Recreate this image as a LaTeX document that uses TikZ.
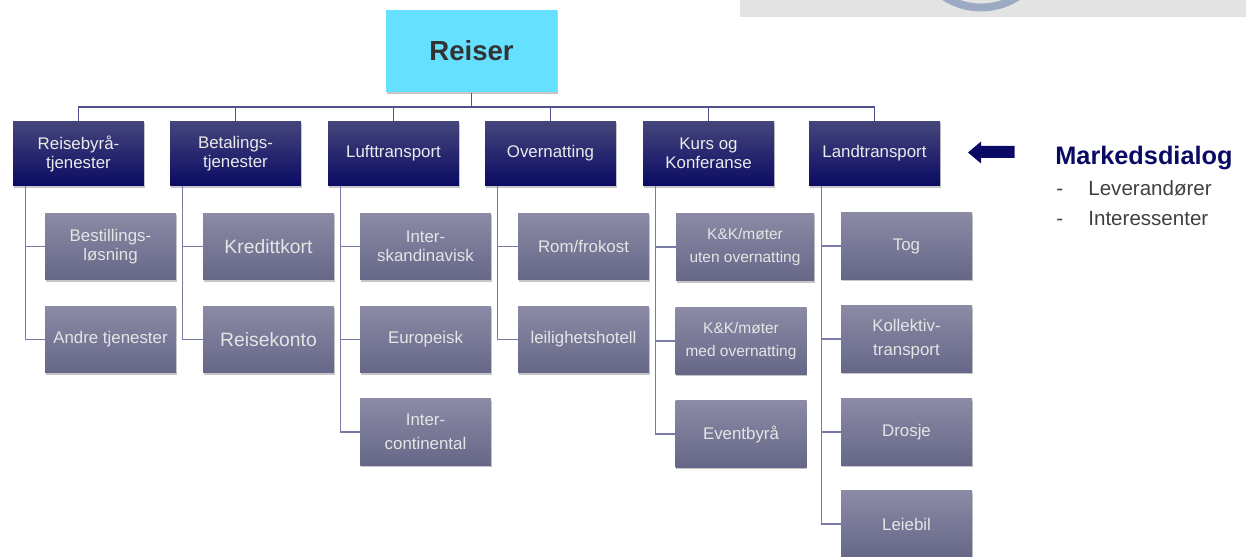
\documentclass[tikz,border=0pt]{standalone}
\usepackage{fontspec}
\setmainfont{Liberation Sans}
\usetikzlibrary{shadows}
\definecolor{navy}{HTML}{0A0A64}
\definecolor{navytop}{HTML}{46467C}
\definecolor{greytop}{HTML}{8B8BA6}
\definecolor{greybot}{HTML}{666688}
\definecolor{linecol}{HTML}{7A7AA6}
\definecolor{buscol}{HTML}{50508E}
\definecolor{ringcol}{HTML}{9CA9C2}
\definecolor{rootcol}{HTML}{66E0FF}
\tikzset{
	topbox/.style={rectangle, inner sep=0pt, align=center, text=white!92!black, font=\fontsize{9.6}{10.8}\selectfont,
		top color=navytop, bottom color=navy, drop shadow={opacity=0.45, shadow xshift=0.3pt, shadow yshift=-1pt},
		minimum width=2.62cm, minimum height=1.3cm},
	subbox/.style={rectangle, inner sep=0pt, align=center, text=white!90!black, font=\fontsize{9.6}{10.8}\selectfont,
		top color=greytop, bottom color=greybot, drop shadow={opacity=0.45, shadow xshift=0.3pt, shadow yshift=-1pt},
		minimum width=2.62cm, minimum height=1.33cm},
	conn/.style={linecol, line width=0.9pt},
	busconn/.style={buscol, line width=0.9pt},
	wide/.style={font=\fontsize{9.6}{13.8}\selectfont},
	large/.style={font=\fontsize{11}{12}\selectfont},
	small/.style={font=\fontsize{8.8}{12.6}\selectfont},
	side/.style={inner sep=0pt, anchor=base west, text=black!75, font=\fontsize{11.7}{15}\selectfont}
}
\begin{document}
\begin{tikzpicture}
	[x=0.02cm, y=-0.02cm]
	\useasboundingbox (0,0) rectangle (1246,557);

	% Banner at the top
	\begin{scope}
		\clip (740,0) rectangle (1246,17);
		\fill[gray!22] (740,0) rectangle (1246,17);
		\draw[ringcol, line width=4.5pt] (981,-59.5) circle[radius=1.34cm];
	\end{scope}

	% Draw root
	\node[rectangle, inner sep=0pt, fill=rootcol, minimum width=3.42cm, minimum height=1.66cm,
		drop shadow={opacity=0.45, shadow xshift=0.3pt, shadow yshift=-1pt},
		font=\bfseries\fontsize{15.7}{18}\selectfont, text=black!80] (Reiser) at (471.5,51) {Reiser};
	\coordinate (Bus) at (471.5,107);

	% Draw top row
	\node[topbox] (Reisebyraa) at (78.5,153.5) {Reisebyrå-\\tjenester};
	\node[topbox] (Betaling) at (235.5,153.5) {Betalings-\\tjenester};
	\node[topbox] (Luft) at (393.5,153.5) {Lufttransport};
	\node[topbox] (Overnatting) at (550.5,153.5) {Overnatting};
	\node[topbox] (Kurs) at (708.5,153.5) {Kurs og\\Konferanse};
	\node[topbox] (Land) at (874.5,153.5) {Landtransport};

	% Draw first column
	\node[subbox] (Bestilling) at (110.5,246.5) {Bestillings-\\løsning};
	\node[subbox] (Andre) at (110.5,339.5) {Andre tjenester};

	% Draw second column
	\node[subbox, large] (Kreditt) at (268.5,246.5) {Kredittkort};
	\node[subbox, large] (Konto) at (268.5,339.5) {Reisekonto};

	% Draw third column
	\node[subbox] (Skandinavisk) at (425.5,246.5) {Inter-\\skandinavisk};
	\node[subbox] (Europeisk) at (425.5,339.5) {Europeisk};
	\node[subbox, wide] (Continental) at (425.5,432) {Inter-\\continental};

	% Draw fourth column
	\node[subbox] (Rom) at (583.5,246.5) {Rom/frokost};
	\node[subbox] (Hotell) at (583.5,339.5) {leilighetshotell};

	% Draw fifth column
	\node[subbox, small, minimum width=2.76cm, minimum height=1.36cm] (Uten) at (745,247) {K\&K/møter\\uten overnatting};
	\node[subbox, small] (Med) at (741,341) {K\&K/møter\\med overnatting};
	\node[subbox] (Event) at (741,434) {Eventbyrå};

	% Draw sixth column
	\node[subbox] (Tog) at (906.5,246) {Tog};
	\node[subbox, wide] (Kollektiv) at (906.5,339) {Kollektiv-\\transport};
	\node[subbox] (Drosje) at (906.5,432) {Drosje};
	\node[subbox] (Leiebil) at (906.5,524) {Leiebil};

	% Draw connectors from root
	\foreach \top in {Reisebyraa, Betaling, Luft, Overnatting, Kurs, Land}
		\draw[busconn] (Reiser.south) -- (Bus) -| (\top.north);

	% Draw connectors to children
	\foreach \top/\sub in {Reisebyraa/Bestilling, Reisebyraa/Andre, Betaling/Kreditt, Betaling/Konto,
		Luft/Skandinavisk, Luft/Europeisk, Luft/Continental, Overnatting/Rom, Overnatting/Hotell,
		Kurs/Uten, Kurs/Med, Kurs/Event, Land/Tog, Land/Kollektiv, Land/Drosje, Land/Leiebil}
		\draw[conn] ([xshift=0.26cm]\top.south west) |- (\sub.west);

	% Draw market dialog
	\node[inner sep=0pt, anchor=base west, text=navy, font=\bfseries\fontsize{14.4}{16}\selectfont] (Dialog) at (1055,165) {Markedsdialog};
	\node[side] (DashA) at (1056,195) {-};
	\node[side] (Lev) at (1088,195) {Leverandører};
	\node[side] (DashB) at (1056,225) {-};
	\node[side] (Int) at (1088,225) {Interessenter};

	% Draw block arrow
	\fill[navy] (968,152.5) -- (981,141.5) -- (981,146) -- (1014.5,146) -- (1014.5,158) -- (981,158) -- (981,163.5) -- cycle;
\end{tikzpicture}
\end{document}
